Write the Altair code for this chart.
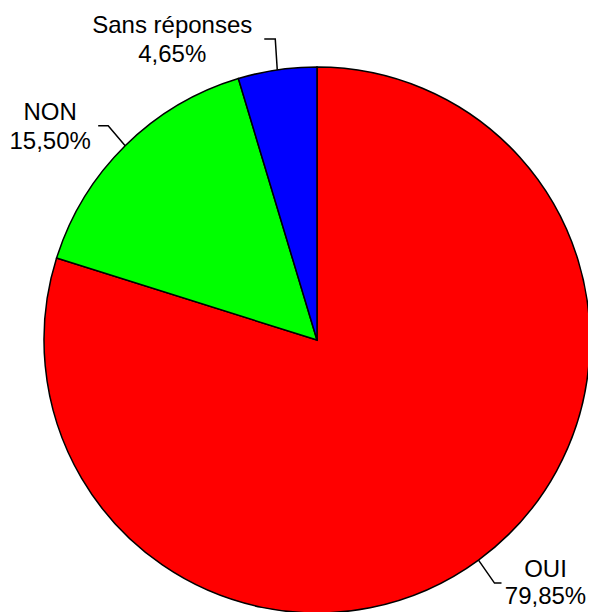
import math
import altair as alt
import pandas as pd

categories = ["OUI", "NON", "Sans réponses"]
values = [79.85, 15.50, 4.65]
pct_labels = ["79,85%", "15,50%", "4,65%"]
colors = ["#FF0000", "#00FF00", "#0000FF"]

W, H = 580, 604
CX, CY, R = 309, 332, 273

# leader elbow offsets (dx, dy) from the slice edge, then horizontal end dx
elbow = {"OUI": (16, 23, 7), "NON": (-17, -20, -10), "Sans réponses": (-2, -31, -11)}
# text anchor offsets from leader end (dx, first baseline dy)
text_off = {"OUI": (44, -6), "NON": (-48, -6), "Sans réponses": (-92, -6)}
LINE_GAP = 27

df = pd.DataFrame({"cat": categories, "val": values, "order": [0, 1, 2]})

total = sum(values)
line_rows, text_rows = [], []
cum = 0.0
for cat, v, p in zip(categories, values, pct_labels):
    mid = (cum + v / 2) / total * 2 * math.pi
    cum += v
    x0 = CX + R * math.sin(mid)
    y0 = CY - R * math.cos(mid)
    dx, dy, hx = elbow[cat]
    x1, y1 = x0 + dx, y0 + dy
    x2 = x1 + hx
    for i, (xx, yy) in enumerate([(x0, y0), (x1, y1), (x2, y1)]):
        line_rows.append({"cat": cat, "i": i, "x": xx, "y": yy})
    tx, ty = text_off[cat]
    gap = LINE_GAP + (2 if cat != "OUI" else 0)
    text_rows.append({"t": cat, "x": x2 + tx, "y": y1 + ty})
    text_rows.append({"t": p, "x": x2 + tx, "y": y1 + ty + gap})

xs = alt.Scale(domain=[0, W], range=[0, W])
ys = alt.Scale(domain=[0, H], range=[0, H])

pie = alt.Chart(df).mark_arc(stroke="black", strokeWidth=1.5, radius=R).encode(
    theta=alt.Theta("val:Q", stack=True),
    order=alt.Order("order:Q"),
    color=alt.Color("cat:N", scale=alt.Scale(domain=categories, range=colors), legend=None),
    x=alt.value(CX),
    y=alt.value(CY),
)

lines = alt.Chart(pd.DataFrame(line_rows)).mark_line(color="black", strokeWidth=1.5).encode(
    x=alt.X("x:Q", scale=xs, axis=None),
    y=alt.Y("y:Q", scale=ys, axis=None),
    detail="cat:N",
    order="i:Q",
)

texts = alt.Chart(pd.DataFrame(text_rows)).mark_text(
    font="Liberation Sans", fontSize=24, color="black", align="center", baseline="alphabetic"
).encode(
    x=alt.X("x:Q", scale=xs, axis=None),
    y=alt.Y("y:Q", scale=ys, axis=None),
    text="t:N",
)

chart = alt.layer(pie, lines, texts).properties(
    width=W, height=H, autosize=alt.AutoSizeParams(type="none"), padding=0,
    background="white",
).configure_view(stroke=None)

chart.save("out.html", embed_options={"renderer": "svg", "actions": False})
